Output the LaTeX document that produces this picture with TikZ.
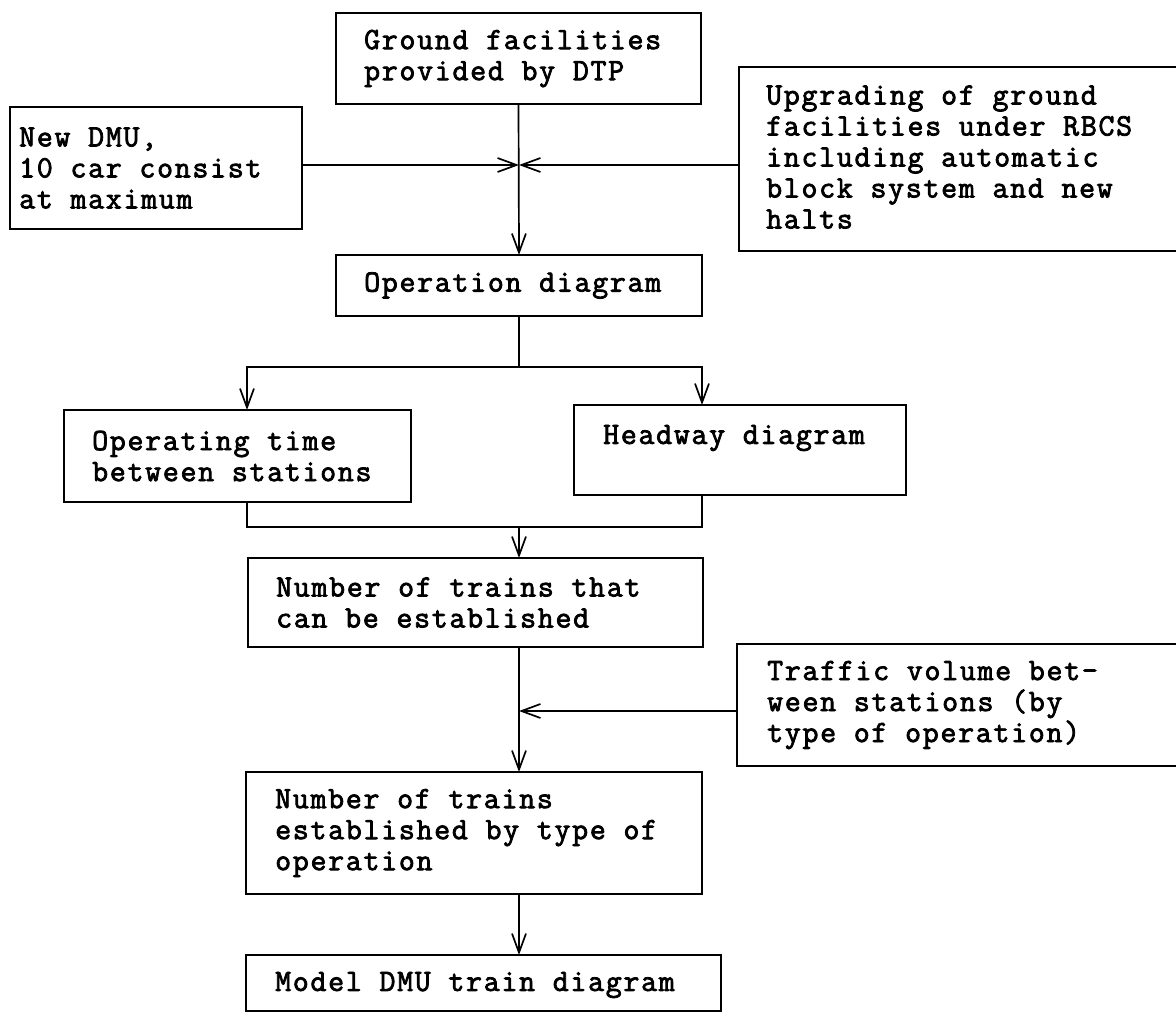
\documentclass[tikz,border=0pt]{standalone}
\usepackage{fontspec}
\usetikzlibrary{arrows.meta}
\newfontfamily\typewriter{Latin Modern Mono}[FakeBold=2.5,LetterSpace=5.5]

\begin{document}
\begin{tikzpicture}[x=1pt,y=-1pt,
  box/.style={draw, line width=1.8pt, rectangle, anchor=north west,
              inner sep=0pt, outer sep=0pt},
  txt/.style={anchor=west, align=left, inner sep=0pt,
              font=\typewriter\fontsize{31pt}{31pt}\selectfont},
  line/.style={line width=1.7pt},
  arr/.style={line width=1.7pt, -{Straight Barb[length=19pt,width=14pt]}}]

\useasboundingbox (0,0) rectangle (1176,1013);

% boxes
\node[box, minimum width=365pt, minimum height=91pt]  (gf)    at (336,13)  {};
\node[box, minimum width=292pt, minimum height=122pt] (dmu)   at (10,107)  {};
\node[box, minimum width=451pt, minimum height=184pt] (upg)   at (739,67)  {};
\node[box, minimum width=366pt, minimum height=61pt]  (op)    at (336,255) {};
\node[box, minimum width=347pt, minimum height=92pt]  (opt)   at (64,410)  {};
\node[box, minimum width=332pt, minimum height=90pt]  (hw)    at (574,405) {};
\node[box, minimum width=455pt, minimum height=89pt]  (num)   at (248,558) {};
\node[box, minimum width=453pt, minimum height=122pt] (tv)    at (737,644) {};
\node[box, minimum width=456pt, minimum height=122pt] (numop) at (246,772) {};
\node[box, minimum width=475pt, minimum height=56pt]  (model) at (246,955) {};

% box texts
\node[txt] (gft)    at ([xshift=28pt]gf.west)  {Ground facilities\\provided by DTP};
\node[txt] (dmut)   at ([xshift=9pt]dmu.west)  {New DMU,\\10 car consist\\at maximum};
\node[txt] (upgt)   at ([xshift=27pt,yshift=2pt]upg.west)
  {Upgrading of ground\\facilities under RBCS\\including automatic\\block system and new\\halts};
\node[txt] (opt-t)  at ([xshift=28pt]op.west)  {Operation diagram};
\node[txt] (optt)   at ([xshift=28pt]opt.west) {Operating time\\between stations};
\node[txt] (hwt)    at ([xshift=29pt,yshift=12pt]hw.west) {Headway diagram};
\node[txt] (numt)   at ([xshift=28pt]num.west) {Number of trains that\\can be established};
\node[txt] (tvt)    at ([xshift=30pt]tv.west)
  {Traffic volume bet-\\ween stations (by\\type of operation)};
\node[txt] (numopt) at ([xshift=29pt]numop.west)
  {Number of trains\\established by type of\\operation};
\node[txt] (modelt) at ([xshift=29pt,yshift=-2pt]model.west) {Model DMU train diagram};

% junctions of the connectors
\coordinate (J) at (519,165);
\coordinate (S) at (519,367);
\coordinate (M) at (519,527);
\coordinate (T) at (519,711);
\coordinate (L) at (247,0);
\coordinate (R) at (702,0);

% connectors
\draw[arr] (gf.south) -- (op.north);
\draw[arr] (dmu.east |- J) -- (J);
\draw[arr] (upg.west |- J) -- (J);

\draw[line] (op.south) -- (S);
\draw[arr] (S) -| (opt.north -| L);
\draw[arr] (S) -| (hw.north -| R);

\draw[line] (opt.south -| L) |- (M);
\draw[line] (hw.south -| R) |- (M);
\draw[arr] (M) -- (num.north -| M);

\draw[arr] (num.south -| M) -- (numop.north -| M);
\draw[arr] (tv.west |- T) -- (T);
\draw[arr] (numop.south -| M) -- (model.north -| M);
\end{tikzpicture}
\end{document}
